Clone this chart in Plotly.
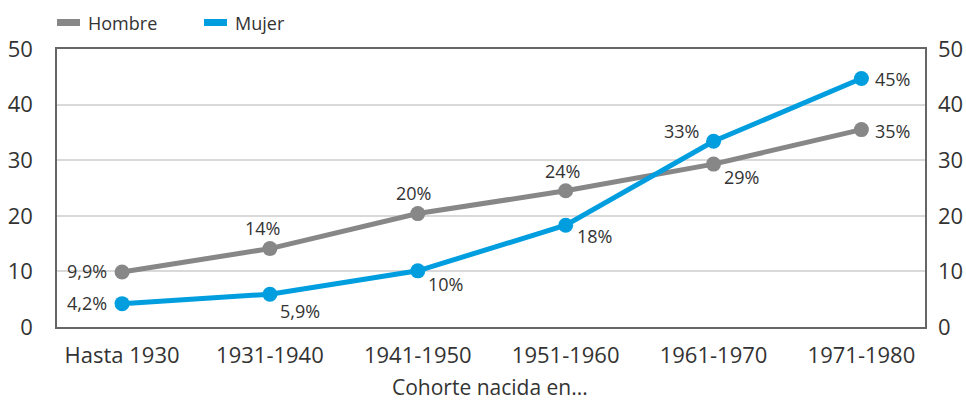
import plotly.graph_objects as go

categories = ["Hasta 1930", "1931-1940", "1941-1950", "1951-1960", "1961-1970", "1971-1980"]
hombre = [9.9, 14.1, 20.4, 24.5, 29.3, 35.5]
mujer = [4.2, 5.9, 10.1, 18.3, 33.4, 44.7]
hombre_labels = ["9,9%", "14%", "20%", "24%", "29%", "35%"]
mujer_labels = ["4,2%", "5,9%", "10%", "18%", "33%", "45%"]
y_ticks = [0, 10, 20, 30, 40, 50]

GRAY = "#878787"
BLUE = "#009EDF"
TXT = "#333333"
FONT = "Open Sans"

fig = go.Figure()
fig.add_trace(go.Scatter(x=categories, y=hombre, mode="lines+markers", name="Hombre",
                         line=dict(color=GRAY, width=5), marker=dict(size=15, color=GRAY),
                         showlegend=False, hoverinfo="skip"))
fig.add_trace(go.Scatter(x=categories, y=mujer, mode="lines+markers", name="Mujer",
                         line=dict(color=BLUE, width=5), marker=dict(size=15, color=BLUE),
                         showlegend=False, hoverinfo="skip", yaxis="y2"))

# label placement: (xanchor, xshift, yshift)
h_pos = [("right", -13, 1), ("center", -7, 21), ("center", -4, 21), ("center", -3, 20),
         ("left", 8, -13), ("left", 12, -1)]
m_pos = [("right", -13, 1), ("left", 8, -17), ("left", 8, -13), ("left", 9, -11),
         ("right", -13, 10), ("left", 12, -1)]

annotations = []
for vals, labs, pos in [(hombre, hombre_labels, h_pos), (mujer, mujer_labels, m_pos)]:
    for c, v, t, (xa, xs, ys) in zip(categories, vals, labs, pos):
        annotations.append(dict(x=c, y=v, xref="x", yref="y", text=t, showarrow=False,
                                xanchor=xa, yanchor="middle", xshift=xs, yshift=ys,
                                font=dict(family=FONT, size=18, color=TXT)))

W, H = 966, 401
L, R, T, B = 57, 41, 49, 74
pw, ph = W - L - R, H - T - B

def px(x):
    return (x - L) / pw

def py(y):
    return (H - B - y) / ph

# axis title
annotations.append(dict(x=px(490), y=py(386.5), xref="paper", yref="paper", text="Cohorte nacida en...",
                        showarrow=False, xanchor="center", yanchor="middle",
                        font=dict(family=FONT, size=21, color=TXT)))
# legend
shapes = []
for name, color, x0, x1, tx in [("Hombre", GRAY, 57, 80, 86), ("Mujer", BLUE, 204, 227, 233)]:
    shapes.append(dict(type="rect", xref="paper", yref="paper", x0=px(x0), x1=px(x1),
                       y0=py(26), y1=py(19), fillcolor=color, line=dict(width=0)))
    annotations.append(dict(x=px(tx), y=py(23.5), xref="paper", yref="paper", text=name,
                            showarrow=False, xanchor="left", yanchor="middle",
                            font=dict(family=FONT, size=18, color=TXT)))

fig.update_layout(
    width=W, height=H, margin=dict(l=L, r=R, t=T, b=B, autoexpand=False),
    paper_bgcolor="white", plot_bgcolor="white",
    font=dict(family=FONT, color=TXT),
    xaxis=dict(type="category", range=[-0.44, 5.43], showgrid=False, showline=True, mirror=True,
               linecolor="#666666", linewidth=1.5, ticks="", tickfont=dict(size=22, color=TXT),
               ticklabelstandoff=8, zeroline=False, automargin=False),
    yaxis=dict(range=[0, 50], tickvals=y_ticks, showgrid=True, gridcolor="#d9d9d9", gridwidth=1.5,
               showline=True, mirror=True, linecolor="#666666", linewidth=1.5, ticks="",
               tickfont=dict(size=22, color=TXT), ticklabelstandoff=18, zeroline=False,
               automargin=False),
    yaxis2=dict(range=[0, 50], tickvals=y_ticks, overlaying="y", side="right", matches="y",
                showgrid=False, showline=False, ticks="", tickfont=dict(size=22, color=TXT),
                ticklabelstandoff=12, zeroline=False, automargin=False),
    annotations=annotations, shapes=shapes,
)

fig.write_html("out.html", config={"displayModeBar": False},
               post_script="document.body.style.margin='0';document.body.style.overflow='hidden';")
